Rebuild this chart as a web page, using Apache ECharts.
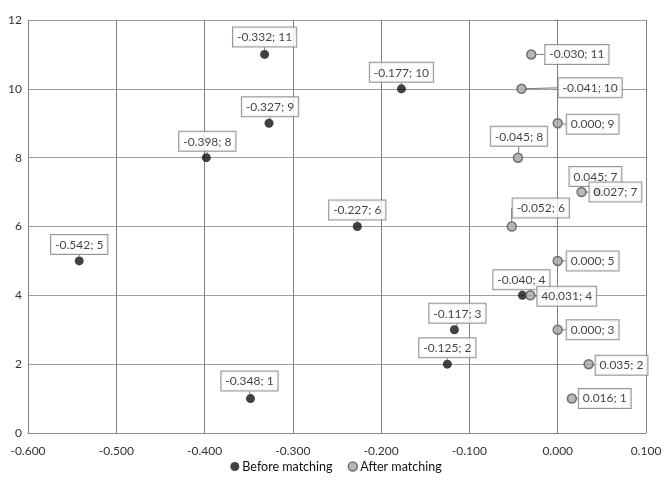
<!DOCTYPE html>
<html><head><meta charset="utf-8">
<script src="https://cdn.jsdelivr.net/npm/echarts@6/dist/echarts.min.js"></script>
<style>html,body{margin:0;padding:0;background:#fff}#c{width:672px;height:483px}</style>
</head><body><div id="c"></div>
<script>
// ---- data ----
const seriesNames = ['Before matching', 'After matching'];
const beforeX = [-0.348, -0.125, -0.117, -0.040, -0.542, -0.227, 0.045, -0.398, -0.327, -0.177, -0.332];
const beforeY = [1, 2, 3, 4, 5, 6, 7, 8, 9, 10, 11];
const beforeLabels = ['-0.348; 1', '-0.125; 2', '-0.117; 3', '-0.040; 4', '-0.542; 5', '-0.227; 6', '0.045; 7', '-0.398; 8', '-0.327; 9', '-0.177; 10', '-0.332; 11'];
const afterX = [0.016, 0.035, 0.000, -0.031, 0.000, -0.052, 0.027, -0.045, 0.000, -0.041, -0.030];
const afterY = [1, 2, 3, 4, 5, 6, 7, 8, 9, 10, 11];
const afterLabels = ['0.016; 1', '0.035; 2', '0.000; 3', '40.031; 4', '0.000; 5', '-0.052; 6', '0.027; 7', '-0.045; 8', '0.000; 9', '-0.041; 10', '-0.030; 11'];
const xTicks = [-0.6, -0.5, -0.4, -0.3, -0.2, -0.1, 0, 0.1];
const yTicks = [0, 2, 4, 6, 8, 10, 12];

// ---- label placement (style only): [anchor, dx, dy]; T = above (centre/bottom), R = right (left/middle)
const beforePlace = [['T',-1,-8],['T',0,-7],['T',3,-7],['T',-1,-6],['T',0,-7],['T',0,-7],['T',-2,-6],['T',1,-7],['T',1,-7],['T',0,-7],['T',0,-8]];
const afterPlace = [['R',7,0],['R',7,1],['R',9,0],['R',7,1],['R',9,0],['T',29,-9],['R',8,0],['T',1,-12],['R',9,1],['R',37,-1],['R',14,0]];

const FONT = 'Lato, "Open Sans", sans-serif';
const txt = '#333333';

function mk(xs, ys) { return xs.map((x, i) => [x, ys[i]]); }

function layoutFor(place) {
  return function (p) {
    const pl = place[p.dataIndex];
    const cx = p.rect.x + p.rect.width / 2, cy = p.rect.y + p.rect.height / 2;
    if (pl[0] === 'T') {
      return { x: cx + pl[1], y: cy + pl[2], align: 'center', verticalAlign: 'bottom' };
    }
    return { x: cx + pl[1], y: cy + pl[2], align: 'left', verticalAlign: 'middle' };
  };
}

const labelStyle = (labels) => ({
  show: true,
  formatter: (p) => labels[p.dataIndex],
  backgroundColor: '#ffffff',
  borderColor: '#7a7a7a',
  borderWidth: 1,
  padding: [3, 4, 2, 4],
  color: '#111111',
  fontSize: 12,
  lineHeight: 14,
  fontFamily: FONT
});

const chart = echarts.init(document.getElementById('c'), null, { renderer: 'canvas' });
chart.setOption({
  animation: false,
  backgroundColor: '#ffffff',
  grid: { left: 28, right: 26, top: 20, bottom: 50, containLabel: false },
  legend: {
    bottom: 5,
    left: 'center',
    itemWidth: 9,
    itemHeight: 9,
    itemGap: 15,
    textStyle: { color: '#111111', fontSize: 12.5, fontFamily: FONT, padding: [0, 0, 0, -2] },
    data: [
      { name: seriesNames[0], icon: 'circle', itemStyle: { color: '#111111', borderWidth: 0 } },
      { name: seriesNames[1], icon: 'circle', itemStyle: { color: '#a6a6a6', borderColor: '#595959', borderWidth: 1.5 } }
    ]
  },
  xAxis: {
    type: 'value',
    min: xTicks[0], max: xTicks[xTicks.length - 1], interval: 0.1,
    axisLine: { show: true, onZero: false, lineStyle: { color: '#8c8c8c' } },
    axisTick: { show: false },
    axisLabel: { color: txt, fontSize: 12, fontFamily: FONT, margin: 12, formatter: v => v.toFixed(3) },
    splitLine: { show: true, lineStyle: { color: '#808080', width: 1 } }
  },
  yAxis: {
    type: 'value',
    min: yTicks[0], max: yTicks[yTicks.length - 1], interval: 2,
    axisLine: { show: true, onZero: true, lineStyle: { color: '#7f7f7f' } },
    axisTick: { show: true, length: 4, lineStyle: { color: '#7f7f7f' } },
    axisLabel: { color: txt, fontSize: 12, fontFamily: FONT, margin: 6 },
    splitLine: { show: true, lineStyle: { color: '#a0a0a0', width: 1 } }
  },
  series: [
    {
      name: seriesNames[0], type: 'scatter', z: 2,
      data: mk(beforeX, beforeY),
      symbol: 'circle', symbolSize: 9,
      itemStyle: { color: '#111111', borderWidth: 0 },
      label: labelStyle(beforeLabels),
      labelLine: { show: true, lineStyle: { color: '#7a7a7a', width: 1 } },
      labelLayout: layoutFor(beforePlace)
    },
    {
      name: seriesNames[1], type: 'scatter', z: 3,
      data: mk(afterX, afterY),
      symbol: 'circle', symbolSize: 9,
      itemStyle: { color: '#a6a6a6', borderColor: '#595959', borderWidth: 1.5 },
      label: labelStyle(afterLabels),
      labelLine: { show: true, lineStyle: { color: '#7a7a7a', width: 1 } },
      labelLayout: layoutFor(afterPlace)
    }
  ]
});
</script></body></html>
